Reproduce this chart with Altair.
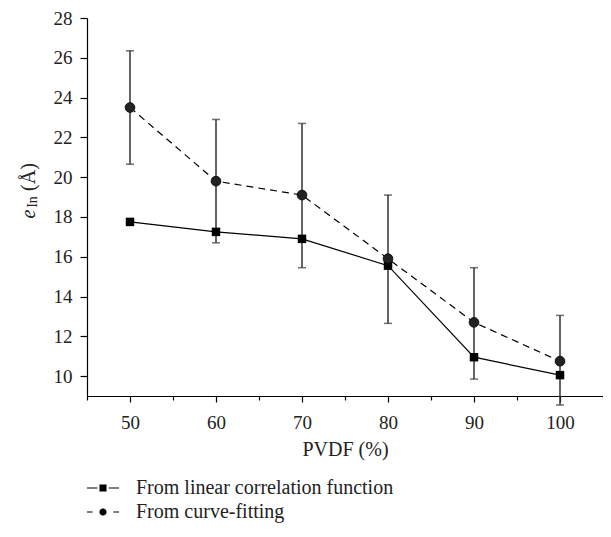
import altair as alt
import pandas as pd

# ---- data ----
pvdf = [50, 60, 70, 80, 90, 100]
linear_corr = [17.75, 17.25, 16.9, 15.55, 10.95, 10.05]
curve_fit = [23.5, 19.8, 19.1, 15.9, 12.7, 10.75]
curve_lo = [20.65, 16.7, 15.45, 12.65, 9.85, 8.55]
curve_hi = [26.35, 22.9, 22.7, 19.1, 15.45, 13.05]
series_names = ["From linear correlation function", "From curve-fitting"]
x_title = "PVDF (%)"
y_title_parts = ["e", "In", "(Å)"]

FONT = "Liberation Serif"

rows = []
for i, x in enumerate(pvdf):
    rows.append({"pvdf": x, "value": linear_corr[i], "series": series_names[0],
                 "lo": None, "hi": None})
    rows.append({"pvdf": x, "value": curve_fit[i], "series": series_names[1],
                 "lo": curve_lo[i], "hi": curve_hi[i]})
df = pd.DataFrame(rows)

x_enc = alt.X("pvdf:Q", scale=alt.Scale(domain=[45, 105], nice=False, zero=False),
              axis=alt.Axis(values=list(range(45, 106, 5)),
                            labelExpr="datum.value % 10 == 0 ? datum.label : ''",
                            tickSize={"condition": {"test": "datum.value % 10 == 0", "value": 6}, "value": 4},
                            title=x_title, grid=False, labelPadding=11, titlePadding=7))
y_enc = alt.Y("value:Q", scale=alt.Scale(domain=[9, 28], nice=False, zero=False),
              axis=alt.Axis(values=list(range(10, 29)),
                            labelExpr="datum.value % 2 == 0 ? datum.label : ''",
                            tickSize={"condition": {"test": "datum.value % 2 == 0", "value": 7}, "value": 4},
                            title=None, grid=False, labelPadding=8))

base = alt.Chart(df)

line_lin = base.transform_filter(alt.datum.series == series_names[0]).mark_line(
    color="black", strokeWidth=1.2).encode(x=x_enc, y=y_enc)
line_fit = base.transform_filter(alt.datum.series == series_names[1]).mark_line(
    color="black", strokeWidth=1.2, strokeDash=[7, 5]).encode(x="pvdf:Q", y="value:Q")

err = base.transform_filter("datum.lo != null").mark_rule(color="#333", strokeWidth=1.5).encode(
    x="pvdf:Q", y="lo:Q", y2="hi:Q")
cap_lo = base.transform_filter("datum.lo != null").mark_tick(
    color="#333", orient="horizontal", size=8, thickness=1.5).encode(x="pvdf:Q", y="lo:Q")
cap_hi = base.transform_filter("datum.lo != null").mark_tick(
    color="#333", orient="horizontal", size=8, thickness=1.5).encode(x="pvdf:Q", y="hi:Q")

squares = base.transform_filter(alt.datum.series == series_names[0]).mark_point(
    shape="square", filled=True, color="black", size=72, opacity=1).encode(x="pvdf:Q", y="value:Q")
circles = base.transform_filter(alt.datum.series == series_names[1]).mark_point(
    shape="circle", filled=True, fill="#222", stroke="black", strokeWidth=0.8, size=95,
    opacity=1).encode(x="pvdf:Q", y="value:Q")

# legend symbols: line + marker glyphs as filled custom paths (layer itself draws nothing: size 0)
path_sq = ("M-2,-0.07H-0.7V0.07H-2Z M0.7,-0.07H2V0.07H0.7Z "
           "M-0.44,-0.44H0.44V0.44H-0.44Z")
path_ci = ("M-2,-0.07H-1.3V0.07H-2Z M1.3,-0.07H2V0.07H1.3Z "
           "M0.45,0A0.45,0.45 0 1,1 -0.45,0A0.45,0.45 0 1,1 0.45,0Z")
legend_layer = base.transform_filter("datum.pvdf == 50").mark_point(
    filled=True, color="black", size=0).encode(
    x="pvdf:Q", y="value:Q",
    shape=alt.Shape("series:N", scale=alt.Scale(domain=series_names, range=[path_sq, path_ci]),
                    legend=alt.Legend(title=None, orient="none", legendX=6, legendY=460,
                                      symbolSize=256, symbolFillColor="black",
                                      symbolOpacity=1,
                                      labelFont=FONT, labelFontSize=20, labelColor="#222",
                                      labelOffset=23, rowPadding=4, labelLimit=400)))

# y axis title: italic e with subscript In, then (Å)
t_e = alt.Chart(pd.DataFrame({"t": [y_title_parts[0]]})).mark_text(
    angle=270, font=FONT, fontSize=20, fontStyle="italic", align="center",
    baseline="alphabetic", color="#222").encode(text="t:N", x=alt.value(-52), y=alt.value(196))
t_in = alt.Chart(pd.DataFrame({"t": [y_title_parts[1]]})).mark_text(
    angle=270, font=FONT, fontSize=14, align="center",
    baseline="alphabetic", color="#222").encode(text="t:N", x=alt.value(-50), y=alt.value(184))
t_a = alt.Chart(pd.DataFrame({"t": [y_title_parts[2]]})).mark_text(
    angle=270, font=FONT, fontSize=20, align="center",
    baseline="alphabetic", color="#222").encode(text="t:N", x=alt.value(-52), y=alt.value(159))

chart = alt.layer(line_lin, line_fit, err, cap_lo, cap_hi, squares, circles, legend_layer,
                  t_e, t_in, t_a).properties(
    width=516, height=378,
    autosize=alt.AutoSizeParams(type="none"),
    padding={"left": 79, "top": 10, "right": 0, "bottom": 128},
).configure_view(stroke=None).configure_axis(
    domainColor="black", domainWidth=1.2, tickColor="black", tickWidth=1.2,
    labelFont=FONT, labelFontSize=19, labelColor="#222",
    titleFont=FONT, titleFontSize=20, titleFontWeight="normal", titleColor="#222",
)

chart.save("out.html", embed_options={"renderer": "svg", "actions": False})
